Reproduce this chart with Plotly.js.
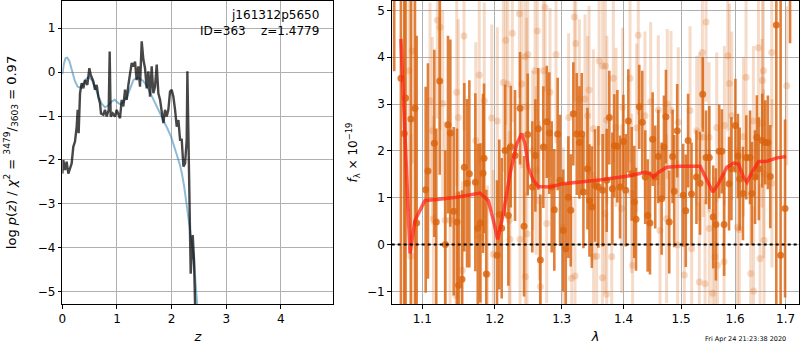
<!DOCTYPE html>
<html><head><meta charset="utf-8">
<script src="https://cdn.plot.ly/plotly-3.0.1.min.js"></script>
<style>html,body{margin:0;padding:0;background:#fff}#plot{width:800px;height:350px}</style>
</head><body><div id="plot"></div>
<script>
// ---- Left panel: redshift probability ----
const zGrid = [0,0.018,0.049,0.079,0.110,0.140,0.171,0.201,0.232,0.263,0.281,0.299,0.324,0.354,0.385,0.415,0.458,0.495,0.519,0.568,0.598,0.629,0.659,0.690,0.708,0.751,0.781,0.812,0.849,0.867,0.885,0.922,0.965,0.995,1.026,1.056,1.087,1.117,1.148,1.178,1.209,1.239,1.270,1.300,1.331,1.361,1.392,1.422,1.453,1.484,1.514,1.545,1.575,1.606,1.636,1.667,1.697,1.728,1.758,1.789,1.819,1.850,1.880,1.911,1.941,1.972,2.002,2.033,2.064,2.094,2.125,2.155,2.186,2.216,2.247,2.277,2.289,2.308,2.326,2.350,2.387,2.411,2.430,2.460];
const logPz = [-2.31,-2.00,-2.23,-2.04,-2.31,-2.19,-2.08,-1.70,-1.58,-1.24,-0.86,-1.39,-0.48,-0.25,-0.37,-0.18,-0.29,0.09,-0.06,-0.21,-0.40,-0.29,-0.56,-0.71,-0.94,-0.97,-0.86,-1.01,-0.86,0.47,-1.01,-0.94,-1.01,-0.86,-0.97,-1.05,-0.63,-0.78,-0.40,-0.63,-0.29,-0.02,0.21,0.13,0.24,-0.18,0.13,-0.33,0.70,0.28,0.09,-0.37,0.02,-0.56,0.13,-0.48,-0.33,0.17,-0.48,-0.63,-0.86,-1.16,-0.86,-1.01,-0.86,-0.44,-0.40,-0.56,-0.86,-1.24,-1.09,-1.54,-1.54,-2.15,-2.08,-1.54,0.02,-1.39,-2.91,-4.59,-3.71,-4.28,-5.29,-6.70];
const zPrior = [0,0.03,0.06,0.09,0.13,0.18,0.23,0.28,0.33,0.38,0.44,0.49,0.54,0.60,0.66,0.72,0.78,0.84,0.90,0.96,1.02,1.06,1.12,1.18,1.24,1.30,1.36,1.42,1.48,1.54,1.60,1.66,1.72,1.79,1.86,1.93,1.99,2.05,2.10,2.15,2.19,2.23,2.27,2.31,2.35,2.40,2.44,2.47,2.50];
const logPrior = [-0.05,0.20,0.32,0.33,0.25,0.05,-0.20,-0.33,-0.35,-0.28,-0.15,-0.11,-0.18,-0.35,-0.55,-0.72,-0.80,-0.76,-0.67,-0.63,-0.70,-0.73,-0.68,-0.58,-0.38,-0.18,-0.13,-0.15,-0.20,-0.30,-0.45,-0.60,-0.75,-0.94,-1.12,-1.30,-1.47,-1.68,-1.90,-2.10,-2.31,-2.60,-2.95,-3.25,-3.65,-4.15,-4.80,-5.30,-5.80];
const zTicks = [0,1,2,3,4];
const pzTicks = [-5,-4,-3,-2,-1,0,1];

// ---- Right panel: spectrum ----
const lamDark = [1.0636,1.0722,1.0765,1.0782,1.0851,1.0904,1.0926,1.1045,1.1075,1.1160,1.1186,1.1232,1.1308,1.1344,1.1376,1.1422,1.1467,1.1490,1.1536,1.1568,1.1606,1.1638,1.1722,1.1756,1.1792,1.1830,1.1845,1.1877,1.2030,1.2063,
1.2098,1.2147,1.2195,1.2230,1.2293,1.2367,1.2426,1.2481,1.2550,1.2596,1.2640,1.2671,1.2717,1.2769,1.2808,1.2845,1.2885,1.2937,1.2974,1.3024,1.3063,1.3104,1.3141,1.3182,1.3236,1.3278,1.3316,1.3342,1.3407,1.3439,1.3478,1.3529,1.3584,
1.3653,1.3720,1.3763,1.3813,1.3846,1.3896,1.3940,1.3996,1.4036,1.4080,1.4137,1.4181,1.4210,1.4266,1.4317,1.4368,1.4410,1.4450,1.4496,1.4541,1.4595,1.4653,1.4694,1.4729,1.4787,1.4847,1.4876,1.4929,1.5036,1.5083,1.5125,1.5187,1.5277,
1.5343,1.5392,1.5453,1.5514,1.5587,1.5637,1.5699,1.5749,1.5792,1.5886,1.5931,1.6007,1.6056,1.6089,1.6152,1.6217,1.6290,1.6325,1.6388,1.6424,1.6463,1.6530,1.6590,1.6642,1.6690,1.6811,1.6898,1.6988,1.7090];
const fluxDark = [6.5,3.55,2.37,3.13,2.68,2.91,0.46,1.17,1.57,2.16,0.48,3.49,0.00,2.56,2.38,0.71,0.48,-0.87,-0.74,1.65,1.31,1.51,1.33,0.35,0.46,1.52,1.84,-0.63,-0.23,0.64,
0.35,2.01,0.62,2.09,1.90,2.91,0.39,2.35,1.23,1.90,2.47,-0.33,2.08,2.62,2.38,1.23,0.74,2.36,1.37,0.30,-0.09,1.01,0.73,2.79,2.36,2.18,2.36,1.12,1.62,0.94,0.80,1.26,1.23,
1.16,1.37,2.71,1.19,2.11,2.10,1.23,2.20,1.16,2.64,1.51,0.91,0.54,2.94,2.61,1.44,0.62,0.46,2.25,1.44,1.88,0.98,2.08,2.73,0.48,1.88,1.14,2.43,1.05,0.72,2.22,1.08,1.44,
1.31,3.21,1.86,1.86,0.59,0.43,1.99,1.99,0.43,1.30,1.62,2.54,1.89,1.40,1.09,1.86,1.86,1.09,1.44,2.29,1.62,2.22,2.18,2.18,1.45,4.69,-0.23,0.77,7.0];
const errDark = [2.8,6.0,6.0,6.0,6.0,4.5,4.0,2.2,2.3,2.0,2.0,2.0,2.0,1.9,2.0,1.8,2.0,2.0,1.9,1.8,1.8,2.0,1.9,1.8,1.7,1.7,1.6,1.8,1.6,1.6,
1.5,1.4,1.5,1.3,1.4,1.2,1.5,1.3,1.4,1.2,1.3,1.4,1.3,1.2,1.3,1.4,1.3,1.2,1.4,1.3,1.4,1.3,1.2,1.1,1.3,1.2,1.3,1.2,1.3,1.2,1.3,1.2,1.3,
1.2,1.1,1.0,1.2,1.1,1.2,1.1,1.0,1.2,1.1,1.0,1.2,1.1,0.9,1.1,1.0,1.2,1.1,1.0,1.1,1.0,1.2,1.1,1.0,1.1,1.0,1.2,1.0,1.1,1.2,1.0,1.1,1.0,
1.1,0.8,1.0,1.1,1.1,1.2,1.0,0.9,1.1,1.0,1.1,1.0,0.9,1.1,1.0,0.9,1.0,1.1,1.0,0.9,1.1,1.0,0.9,1.0,1.1,6.0,6.0,1.9,2.7];

const lamLight = [1.0826,1.0852,1.0869,1.1102,1.1133,1.1147,1.1200,1.1236,1.1272,1.1304,1.1372,1.1454,1.1463,1.1485,1.1541,1.1564,1.1728,1.1777,1.1797,1.1848,1.1892,1.1954,1.1978,1.2035,1.2122,1.2157,1.2186,1.2209,1.2219,1.2253,1.2357,1.2367,1.2392,1.2441,1.2445,1.2466,1.2470,1.2481,1.2556,1.2591,1.2606,1.2626,1.2655,1.2671,1.2718,1.2743,1.2768,1.2819,1.2911,1.3024,1.3109,1.3156,1.3198,1.3209,1.3220,1.3278,1.3368,1.3411,1.3433,1.3502,1.3506,1.3556,1.3595,1.3649,1.3653,1.3692,1.3697,1.3719,1.3723,1.3803,1.3829,1.3874,1.3968,1.3985,1.4108,1.4136,1.4153,1.4221,1.4249,1.4363,1.4462,1.4595,1.4624,1.4740,1.4752,1.4818,1.4936,1.4948,1.5057,1.5160,1.5190,1.5282,1.5330,1.5334,1.5386,1.5404,1.5435,1.5454,1.5509,1.5513,1.5578,1.5621,1.5652,1.5665,1.5791,1.5797,1.5861,1.5892,1.5937,1.6045,1.6083,1.6161,1.6212,1.6304,1.6355,1.6359,1.6454,1.6487,1.6527,1.6533,1.6553,1.6557,1.6566,1.6719,1.6723,1.7022];
const fluxLight = [3.71,-0.25,4.13,3.07,2.43,0.55,4.79,4.64,3.01,0.52,0.52,-1.09,3.25,2.71,-0.55,4.45,2.22,3.62,0.16,3.07,-0.64,2.70,-0.21,2.64,3.46,4.36,3.43,0.52,0.11,4.51,4.93,0.11,3.43,4.01,-0.69,2.94,0.23,4.06,2.01,3.71,1.58,4.56,0.94,-0.90,3.71,5.06,0.45,3.25,4.06,0.37,2.71,-0.72,4.86,-0.67,4.29,3.11,3.11,2.75,3.30,2.47,-0.26,-0.25,3.92,-0.71,3.81,0.66,3.81,-1.06,2.66,-0.26,3.55,2.50,0.77,2.93,3.55,1.09,-0.44,2.49,4.47,2.75,3.05,2.87,0.30,0.55,3.00,2.86,-0.01,2.61,-0.65,2.86,-0.09,2.43,-0.80,2.30,4.10,2.29,-0.84,4.75,2.29,0.34,-1.04,-0.26,2.50,-0.44,-0.37,2.54,4.03,3.44,2.75,0.37,0.32,2.30,3.57,-0.62,2.64,-0.99,4.20,-0.30,2.59,3.50,3.71,1.51,0.09,4.10,1.31,3.39];
const errLight = [3.0,2.6,2.4,2.1,2.0,2.2,2.1,2.2,2.0,2.1,1.9,2.2,2.0,2.1,1.9,2.0,2.1,1.9,2.0,2.1,1.9,2.0,1.8,2.0,1.9,1.8,2.0,1.9,1.8,1.9,1.8,1.9,1.8,2.0,1.8,1.9,1.8,1.9,1.7,1.9,1.8,1.9,1.7,1.8,1.9,1.8,1.7,1.8,1.9,1.7,1.8,1.7,1.8,1.7,1.9,1.7,1.8,1.7,1.8,1.7,1.8,1.7,1.8,1.7,1.8,1.7,1.8,1.7,1.8,1.7,1.8,1.7,1.8,1.7,1.8,1.7,1.6,1.8,1.7,1.8,1.7,1.6,1.7,1.8,1.6,1.7,1.8,1.6,1.7,1.8,1.7,1.6,1.7,1.8,1.6,1.7,1.8,1.7,1.6,1.7,1.8,1.7,1.6,1.7,1.8,1.7,1.6,1.7,1.8,1.7,1.6,1.7,1.8,1.7,1.6,1.8,1.7,1.6,1.8,1.7,1.6,1.8,1.7,1.6,1.8,1.7];

const lamModel = [1.0722,1.0839,1.0904,1.1036,1.1192,1.1463,1.1787,1.1905,1.1977,1.2040,1.2121,1.2219,1.2318,1.2392,1.2441,1.2490,1.2565,1.2640,1.2819,1.3024,1.3555,1.4108,1.4363,1.4450,1.4508,1.4595,1.4743,1.4980,1.5344,1.5468,1.5580,1.5685,1.5844,1.5970,1.6066,1.6163,1.6229,1.6327,1.6457,1.6623,1.6823,1.7011];
const fluxModel = [4.39,-0.19,0.52,0.94,0.96,1.01,1.10,0.94,0.52,0.11,0.66,1.51,2.15,2.37,2.15,1.65,1.37,1.24,1.23,1.30,1.37,1.47,1.54,1.51,1.44,1.54,1.65,1.67,1.67,1.37,1.12,1.30,1.65,1.74,1.72,1.44,1.33,1.54,1.77,1.78,1.85,1.88];
const lamTicks = [1.1,1.2,1.3,1.4,1.5,1.6,1.7];
const lamTickText = ['1.1','1.2','1.3','1.4','1.5','1.6','1.7'];
const fluxTicks = [-1,0,1,2,3,4,5];

const objName = 'j161312p5650';
const objInfo = 'ID=363\u00a0\u00a0\u00a0\u00a0z=1.4779';
const stamp = 'Fri Apr 24 21:23:38 2020';

const ORANGE = 'rgba(217,100,15,0.82)';
const FONT = 'DejaVu Sans, sans-serif';

const traces = [
  {x: zPrior, y: logPrior, xaxis:'x', yaxis:'y', mode:'lines', line:{color:'rgba(31,119,180,0.5)', width:2}, hoverinfo:'skip'},
  {x: zGrid, y: logPz, xaxis:'x', yaxis:'y', mode:'lines', line:{color:'rgba(0,0,0,0.72)', width:2.4}, hoverinfo:'skip'},
  {x: lamLight, y: fluxLight, xaxis:'x2', yaxis:'y2', mode:'markers',
   marker:{color:'rgba(221,112,35,0.25)', size:7},
   error_y:{type:'data', array: errLight, color:'rgba(221,112,35,0.25)', thickness:3, width:0}},
  {x: lamDark, y: fluxDark, xaxis:'x2', yaxis:'y2', mode:'markers',
   marker:{color:ORANGE, size:7},
   error_y:{type:'data', array: errDark, color:ORANGE, thickness:2.6, width:0}},
  {x: lamModel, y: fluxModel, xaxis:'x2', yaxis:'y2', mode:'lines', line:{color:'rgba(255,30,20,0.72)', width:3.5}, hoverinfo:'skip'}
];

const axCommon = {
  showline:true, mirror:true, linecolor:'#000', linewidth:1,
  ticks:'outside', ticklen:3.5, tickcolor:'#000', tickwidth:1,
  showgrid:true, gridcolor:'#b0b0b0', gridwidth:1, zeroline:false,
  tickfont:{family:FONT, size:12, color:'#000'}
};

const layout = {
  width:800, height:350,
  margin:{l:0, r:0, t:1, b:46},
  paper_bgcolor:'#fff', plot_bgcolor:'#fff',
  showlegend:false,
  font:{family:FONT, size:12, color:'#000'},
  xaxis: Object.assign({}, axCommon, {domain:[0.0779,0.4166], range:[0,4.96], tickvals:zTicks, anchor:'y',
    title:{text:'<i>z</i>', font:{family:FONT,size:13}, standoff:6}}),
  yaxis: Object.assign({}, axCommon, {domain:[0,1], range:[-5.28,1.62], tickvals:pzTicks, anchor:'x',
    ticktext: pzTicks.map(v => v < 0 ? '\u2212' + Math.abs(v) : String(v)),
    title:{text:'log <i>p</i>(<i>z</i>) / <i>χ</i><sup>2</sup> = <sup>3479</sup>/<sub>3603</sub> = 0.97', font:{family:FONT,size:13}, standoff:18}}),
  xaxis2: Object.assign({}, axCommon, {domain:[0.4896,0.9991], type:'log', range:[Math.log10(1.0604), Math.log10(1.728)],
    tickvals:lamTicks, ticktext:lamTickText, anchor:'y2',
    title:{text:'<i>λ</i>', font:{family:FONT,size:13}, standoff:6}}),
  yaxis2: Object.assign({}, axCommon, {domain:[0,1], range:[-1.27,5.2], tickvals:fluxTicks, anchor:'x2',
    ticktext: fluxTicks.map(v => v < 0 ? '\u2212' + Math.abs(v) : String(v)),
    title:{text:'<i>f</i><sub>λ</sub> × 10<sup>−19</sup>', font:{family:FONT,size:12}, standoff:6}}),
  shapes:[
    {type:'line', xref:'x2 domain', yref:'y2', x0:0, x1:1, y0:0, y1:0, line:{color:'#000', width:2, dash:'dot'}, layer:'above'}
  ],
  annotations:[
    {xref:'x domain', yref:'y domain', x:0.955, y:0.985, xanchor:'right', yanchor:'top', showarrow:false, align:'right',
     text: objName + '<br>' + objInfo, font:{family:FONT, size:12, color:'#000'}},
    {xref:'paper', yref:'paper', x:0.985, y:-0.115, xanchor:'right', yanchor:'middle', showarrow:false,
     text: stamp, font:{family:FONT, size:6.5, color:'#000'}}
  ]
};

Plotly.newPlot('plot', traces, layout, {staticPlot:true, displayModeBar:false});
</script>
</body></html>
